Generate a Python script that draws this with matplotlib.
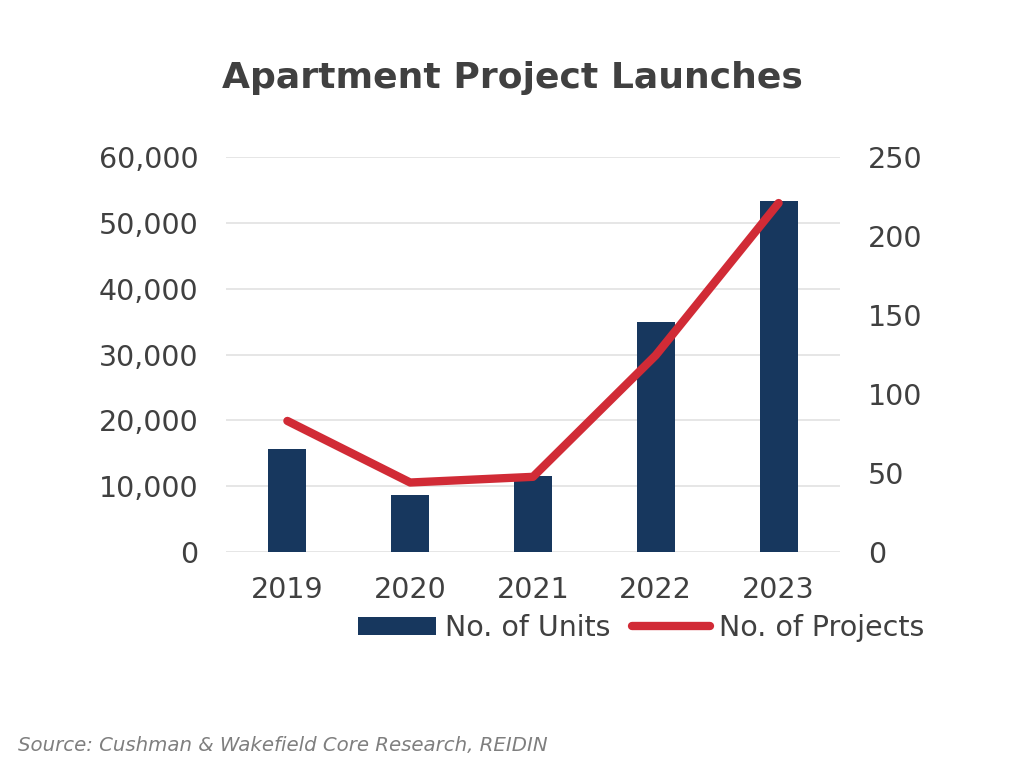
import numpy as np
import matplotlib.pyplot as plt
from matplotlib.patches import Patch
from matplotlib.lines import Line2D

years = ['2019', '2020', '2021', '2022', '2023']
units = [15600, 8600, 11600, 34900, 53300]
projects = [83, 44, 47.6, 124.6, 221]

navy = '#17375E'
red = '#D12B36'
txt = '#404040'
plt.rcParams['font.family'] = ['DejaVu Sans']

fig = plt.figure(figsize=(10.24, 7.77), dpi=100)
ax = fig.add_axes([0.2207, 0.2896, 0.5996, 0.508])
x = np.arange(len(years))
ax.bar(x, units, width=0.31, color=navy, zorder=2)
ax.set_ylim(0, 60000)
ax.set_xlim(-0.5, 4.5)
ax.set_yticks(np.arange(0, 60001, 10000))
ax.set_yticklabels([f'{v:,}' for v in range(0, 60001, 10000)])
ax.set_xticks(x)
ax.set_xticklabels(years)
ax.yaxis.grid(True, color='#E2E2E2', linewidth=1.2, zorder=0)
ax.set_axisbelow(True)
for s in ax.spines.values():
    s.set_visible(False)
ax.tick_params(length=0, labelsize=20.5, labelcolor=txt)
ax.tick_params(axis='y', pad=20)
ax.tick_params(axis='x', pad=17)

ax2 = ax.twinx()
ax2.plot(x, projects, color=red, linewidth=6, solid_capstyle='round', solid_joinstyle='round', zorder=3)
ax2.set_ylim(0, 250)
ax2.set_yticks(np.arange(0, 251, 50))
for s in ax2.spines.values():
    s.set_visible(False)
ax2.tick_params(length=0, labelsize=20.5, labelcolor=txt, pad=20)

fig.text(0.5, 0.9, 'Apartment Project Launches', ha='center', va='center',
         fontsize=26, fontweight='bold', color=txt)

handles = [Patch(facecolor=navy), Line2D([0], [0], color=red, linewidth=6, solid_capstyle='round')]
fig.legend(handles, ['No. of Units', 'No. of Projects'], loc='center', bbox_to_anchor=(0.626, 0.192),
           ncol=2, frameon=False, fontsize=20.5, labelcolor=txt, handlelength=2.75,
           handletextpad=0.3, columnspacing=0.75, handleheight=0.6)

fig.text(0.018, 0.04, 'Source: Cushman & Wakefield Core Research, REIDIN', fontsize=14.2,
         style='italic', color='#7F7F7F', va='center', ha='left')

fig.savefig('out.png', dpi=100)
